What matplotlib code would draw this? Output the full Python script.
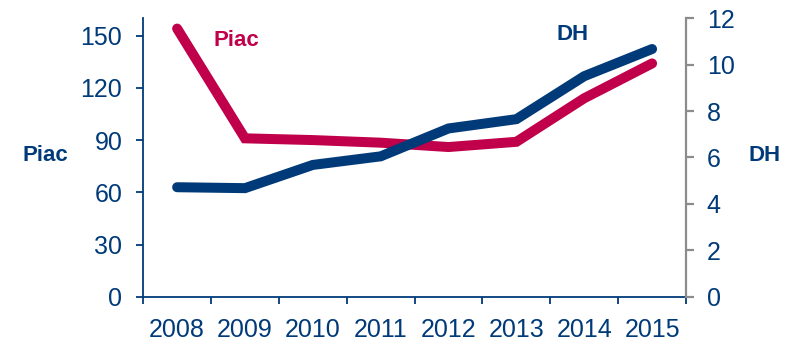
import matplotlib
matplotlib.use("Agg")
from matplotlib import pyplot as plt
from matplotlib import rcParams as mplParams
import numpy as np

mplParams["font.family"] = ["Liberation Sans", "DejaVu Sans"]

years = ["2008", "2009", "2010", "2011", "2012", "2013", "2014", "2015"]
piac = [154, 91, 90, 88.5, 86, 89, 114, 134]
dh = [4.72, 4.68, 5.68, 6.05, 7.25, 7.65, 9.5, 10.67]

navy = "#003A78"
crimson = "#C0004A"
grey = "#8C8C8C"

fig = plt.figure(figsize=(8, 3.42), dpi=100)
ax = fig.add_axes([0.179, 0.132, 0.6785, 0.815])
ax2 = ax.twinx()

x = np.arange(len(years))
ax.plot(x, piac, color=crimson, lw=7.2, solid_capstyle="round", solid_joinstyle="miter", zorder=3)
ax2.plot(x, dh, color=navy, lw=7.2, solid_capstyle="round", solid_joinstyle="miter", zorder=3)

ax.set_xlim(-0.5, len(years) - 0.5)
ax.set_ylim(0, 160)
ax2.set_ylim(0, 12)

ax.set_yticks(np.arange(0, 151, 30))
ax2.set_yticks(np.arange(0, 13, 2))
ax.set_xticks(np.arange(-0.5, len(years)), [])
ax.set_xticks(x, years, minor=True)

for s in ["top", "right"]:
    ax.spines[s].set_visible(False)
for s in ["top", "left", "bottom"]:
    ax2.spines[s].set_visible(False)
ax.spines["left"].set_color(navy)
ax.spines["bottom"].set_color(navy)
ax2.spines["right"].set_color(grey)
ax.spines["left"].set_linewidth(1.3)
ax.spines["bottom"].set_linewidth(1.3)
ax2.spines["right"].set_linewidth(1.6)

ax.tick_params(axis="y", colors=navy, labelsize=18, length=5, width=1.3, pad=10)
ax.tick_params(axis="x", which="major", colors=navy, length=5, width=1.3)
ax.tick_params(axis="x", which="minor", colors=navy, labelsize=18, length=0, pad=15)
ax2.tick_params(axis="y", colors=grey, labelcolor=navy, labelsize=18, length=6, width=1.6, pad=9)

fig.text(0.028, 0.545, "Piac", color=navy, fontsize=16, fontweight="bold", va="center", ha="left")
fig.text(0.936, 0.545, "DH", color=navy, fontsize=16, fontweight="bold", va="center", ha="left")
fig.text(0.267, 0.883, "Piac", color=crimson, fontsize=16, fontweight="bold", va="center", ha="left")
fig.text(0.695, 0.90, "DH", color=navy, fontsize=16, fontweight="bold", va="center", ha="left")

fig.savefig("out.png", dpi=100)
